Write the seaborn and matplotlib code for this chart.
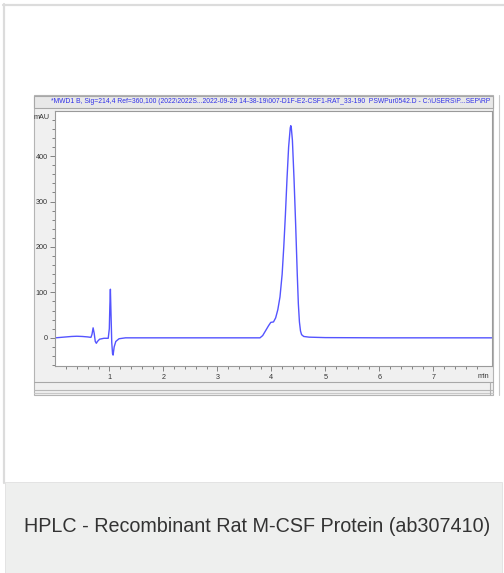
import matplotlib
matplotlib.use("Agg")
import matplotlib.pyplot as plt
from matplotlib.patches import Rectangle
from matplotlib.lines import Line2D
import seaborn as sns
import pandas as pd

# ---- data ----
time_min = [0.0, 0.1, 0.2, 0.3, 0.4, 0.5, 0.6, 0.66, 0.68, 0.70, 0.72, 0.74, 0.76,
            0.78, 0.82, 0.9, 0.98, 1.0, 1.01, 1.02, 1.03, 1.045, 1.06, 1.07, 1.09,
            1.12, 1.18, 1.3, 2.0, 3.0, 3.7, 3.79, 3.84, 3.9, 3.95, 3.99, 4.04, 4.08,
            4.12, 4.16, 4.2, 4.23, 4.26, 4.29, 4.32, 4.35, 4.36, 4.37, 4.39, 4.42,
            4.45, 4.48, 4.50, 4.52, 4.54, 4.56, 4.6, 4.7, 5.0, 6.0, 7.0, 8.08]
signal_mau = [0, 1, 2, 3, 3.5, 3, 2, 1, 8, 22, 10, -8, -12,
              -8, -3, -1, -1, 20, 70, 107, 60, -10, -35, -38, -20,
              -8, -2, 0, 0, 0, 0, 0, 5, 17, 27, 34, 35, 44,
              62, 90, 140, 200, 270, 350, 420, 462, 467, 462, 435, 350,
              250, 140, 75, 35, 15, 7, 3, 1.5, 0.5, 0, 0, 0]
x_ticks = [1, 2, 3, 4, 5, 6, 7]
y_ticks = [0, 100, 200, 300, 400]
header_text = ("*MWD1 B, Sig=214,4 Ref=360,100 (2022\\2022S...2022-09-29 14-38-19\\007-D1F-E2-CSF1-RAT_33-190  "
               "PSWPur0542.D - C:\\USERS\\P...SEP\\RP")
caption = "HPLC - Recombinant Rat M-CSF Protein (ab307410)"

sns.set_style("white")
plt.rcParams['font.family'] = ['Liberation Sans', 'DejaVu Sans']

W, H = 504, 573
fig = plt.figure(figsize=(W / 100, H / 100), dpi=100)
fig.patch.set_facecolor("white")


def rect(x0, y0, x1, y1, fc="none", ec="none", lw=0.8, z=-2):
    fig.patches.append(Rectangle((x0 / W, 1 - y1 / H), (x1 - x0) / W, (y1 - y0) / H,
                                 transform=fig.transFigure, facecolor=fc, edgecolor=ec,
                                 linewidth=lw, zorder=z))


def hline(x0, x1, y, color, lw=1.0):
    fig.lines.append(Line2D([x0 / W, x1 / W], [1 - y / H, 1 - y / H], transform=fig.transFigure,
                            color=color, linewidth=lw, zorder=-1))


def vline(x, y0, y1, color, lw=1.0):
    fig.lines.append(Line2D([x / W, x / W], [1 - y0 / H, 1 - y1 / H], transform=fig.transFigure,
                            color=color, linewidth=lw, zorder=-1))


# card frame
vline(4, 4, 483, "#dcdcdc", lw=1.6)
hline(3, 504, 4.5, "#dcdcdc", lw=1.6)
rect(4.5, 482, 502, 573, fc="#eeefee", ec="#e0e0e0", lw=0.6)

# chromatogram window panel
rect(34, 95, 493, 395, fc="#f0f0f0", ec="#b4b4b4", lw=0.8)
rect(34, 96, 493, 107.5, fc="#e8e8e8", ec="#a8a8a8", lw=0.8, z=-1.5)
vline(499, 95, 395, "#c8c8c8", lw=0.8)
hline(34, 493, 381.5, "#a8a8a8", lw=0.8)
hline(34, 493, 389.5, "#b8b8b8", lw=0.8)
hline(34, 493, 392.5, "#c8c8c8", lw=0.8)
vline(489.5, 382, 395, "#b0b0b0", lw=0.8)

fig.text(490 / W, 1 - 101.8 / H, header_text, ha="right", va="center",
         fontsize=4.83, color="#3030e8")

# plot axes
ax_l, ax_r, ax_t, ax_b = 55.3, 491.7, 110.7, 366
ax = fig.add_axes([ax_l / W, 1 - ax_b / H, (ax_r - ax_l) / W, (ax_b - ax_t) / H])
ax.set_zorder(1)
ax.set_facecolor("white")

df = pd.DataFrame({"time": time_min, "mAU": signal_mau})
sns.lineplot(data=df, x="time", y="mAU", ax=ax, color="#5454ff", linewidth=1.0,
             estimator=None)

ax.set_xlim(0, 8.08)
ax.set_ylim(-62, 500)
ax.set_xticks(x_ticks)
ax.set_yticks(y_ticks)
ax.set_xticks([i * 0.2 for i in range(1, 41) if abs(i * 0.2 - round(i * 0.2)) > 1e-6], minor=True)
ax.set_yticks([v for v in range(-60, 500, 20) if v % 100 != 0], minor=True)
ax.set_xticklabels([str(t) for t in x_ticks])
ax.set_yticklabels([str(t) for t in y_ticks])
ax.tick_params(axis="both", which="major", direction="out", length=3.5, width=0.6,
               color="#707070", labelsize=5.2, labelcolor="#333333", pad=2)
ax.tick_params(axis="both", which="minor", direction="out", length=2.2, width=0.6,
               color="#707070")
ax.tick_params(axis="x", which="both", bottom=True)
ax.tick_params(axis="y", which="both", left=True)
ax.set_xlabel("")
ax.set_ylabel("")
for s in ax.spines.values():
    s.set_color("#9a9a9a")
    s.set_linewidth(0.8)

# unit labels
fig.text(50 / W, 1 - 117.3 / H, "mAU", ha="right", va="center", fontsize=5.2,
         color="#333333", zorder=3)
fig.text(489 / W, 1 - 377 / H, "min", ha="right", va="center", fontsize=5.2,
         color="#333333", zorder=3)

# caption
fig.text(257 / W, 1 - 526 / H, caption, ha="center", va="center", fontsize=14.2,
         color="#333333")

fig.savefig("out.png", dpi=100)
